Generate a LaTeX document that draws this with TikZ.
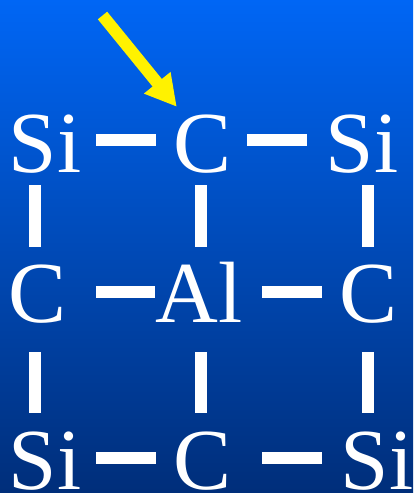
\documentclass[tikz,border=0pt]{standalone}
\usepackage{fontspec}
\setmainfont{Liberation Serif}
\usetikzlibrary{arrows.meta, positioning}
\definecolor{bgtop}{RGB}{0,102,245}
\definecolor{bgbottom}{RGB}{0,46,122}

\begin{document}
\begin{tikzpicture}[x=1pt, y=-1pt,
    atom/.style={text=white, inner sep=0pt, anchor=base, text height=58pt,
      text depth=0pt, font=\fontsize{87}{87}\selectfont},
    bond/.style={white, line width=12pt},
    pointer/.style={yellow, line width=12pt, -{Triangle[width=32pt,length=31pt]}}]
  \useasboundingbox (0,0) rectangle (413,493);
  \shade[top color=bgtop, bottom color=bgbottom] (0,0) rectangle (413,493); % Hintergrund
  % Atome
  \node[atom] (si1) at (45,172)  {Si};
  \node[atom] (c1)  at (203,172) {C};
  \node[atom] (si2) at (362,172) {Si};
  \node[atom] (c2)  at (38,322)  {C};
  \node[atom] (al)  at (199,322) {Al};
  \node[atom] (c3)  at (369,322) {C};
  \node[atom] (si3) at (45,489)  {Si};
  \node[atom] (c4)  at (203,489) {C};
  \node[atom] (si4) at (377,489) {Si};
  \coordinate (colL) at (35,0);
  \coordinate (colM) at (201,0);
  \coordinate (colR) at (368,0);
  % Bindungen waagrecht
  \draw[bond, shorten <=14.7pt, shorten >=18pt]   ([yshift=3.5pt]si1.east) -- ([yshift=3.5pt]c1.west);
  \draw[bond, shorten <=15pt,   shorten >=18.7pt] ([yshift=3.5pt]c1.east)  -- ([yshift=3.5pt]si2.west);
  \draw[bond, shorten <=29pt,   shorten >=0pt]    ([yshift=1.5pt]c2.east)  -- ([yshift=1.5pt]al.west);
  \draw[bond, shorten <=19.5pt, shorten >=18pt]   ([yshift=1.5pt]al.east)  -- ([yshift=1.5pt]c3.west);
  \draw[bond, shorten <=14.7pt, shorten >=18pt]   ([yshift=2.5pt]si3.east) -- ([yshift=2.5pt]c4.west);
  \draw[bond, shorten <=30pt,   shorten >=18.7pt] ([yshift=2.5pt]c4.east)  -- ([yshift=2.5pt]si4.west);
  % Bindungen senkrecht
  \draw[bond, shorten <=13pt, shorten >=17pt] (si1.south -| colL) -- (c2.north -| colL);
  \draw[bond, shorten <=13pt, shorten >=17pt] (c1.south -| colM)  -- (al.north -| colM);
  \draw[bond, shorten <=13pt, shorten >=17pt] (si2.south -| colR) -- (c3.north -| colR);
  \draw[bond, shorten <=30pt, shorten >=18pt] (c2.south -| colL)  -- (si3.north -| colL);
  \draw[bond, shorten <=30pt, shorten >=18pt] (al.south -| colM)  -- (c4.north -| colM);
  \draw[bond, shorten <=30pt, shorten >=18pt] (c3.south -| colR)  -- (si4.north -| colR);
  % Pfeil
  \coordinate (tail) at (102.5,15.5);
  \draw[pointer] (tail) -- ([xshift=3pt, yshift=7pt]c1.north west);
\end{tikzpicture}
\end{document}
